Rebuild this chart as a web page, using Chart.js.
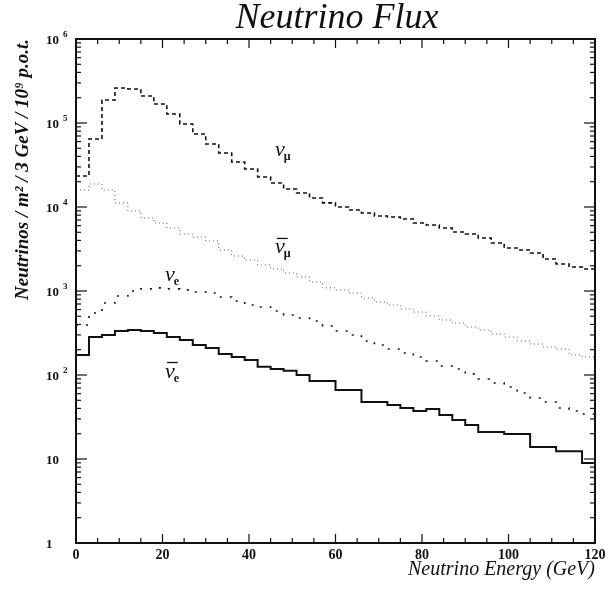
<!DOCTYPE html>
<html>
<head>
<meta charset="utf-8">
<script src="https://cdn.jsdelivr.net/npm/chart.js@4/dist/chart.umd.min.js"></script>
<style>
  html, body { margin: 0; padding: 0; background: #fff; }
  canvas { display: block; }
</style>
</head>
<body>
<canvas id="fluxChart" width="605" height="590"></canvas>
<script>
// bin edges in GeV (3 GeV bins)
const binEdges = [0, 3, 6, 9, 12, 15, 18, 21, 24, 27, 30, 33, 36, 39, 42, 45, 48, 51, 54, 57,
  60, 63, 66, 69, 72, 75, 78, 81, 84, 87, 90, 93, 96, 99, 102, 105, 108, 111, 114, 117, 120];

// neutrinos / m2 / 3 GeV / 1e9 p.o.t., one value per bin
const numu = [23400, 64500, 188000, 261000, 254000, 210000, 168000, 128000, 97300, 74000,
  56200, 43900, 34300, 28300, 22800, 19300, 16400, 14700, 12800, 11200,
  10000, 9200, 8490, 7810, 7600, 7200, 6450, 6100, 5620, 5040,
  4770, 4270, 3730, 3250, 3080, 2830, 2400, 2100, 1930, 1830];
const numubar = [15900, 18800, 15900, 11200, 8960, 7400, 6450, 5620, 4770, 4390,
  3940, 3080, 2610, 2340, 2040, 1830, 1640, 1470, 1280, 1090,
  1030, 946, 826, 740, 681, 611, 562, 504, 452, 416,
  373, 343, 308, 283, 254, 234, 215, 204, 173, 164];
const nue = [394, 547, 720, 871, 1000, 1060, 1090, 1060, 1030, 973,
  946, 849, 760, 681, 645, 578, 518, 477, 440, 383,
  334, 299, 254, 228, 204, 183, 164, 147, 128, 118,
  103, 89.6, 80.3, 72, 61, 53.2, 47.7, 40.5, 37.3, 34.3];
const nuebar = [173, 283, 299, 334, 343, 334, 316, 283, 261, 228,
  210, 178, 164, 151, 125, 118, 112, 100, 84.9, 84.9,
  66.3, 66.3, 47.7, 47.7, 43.9, 40.5, 37.3, 39.4, 33.4, 29.1,
  25.4, 21.0, 21.0, 19.9, 19.9, 13.9, 13.9, 12.4, 12.4, 8.96];

const xTicks = [0, 20, 40, 60, 80, 100, 120];
const yTickValues = [1, 10, 100, 1000, 10000, 100000, 1000000];
const yTickBase = ['1', '10', '10', '10', '10', '10', '10'];
const yTickExp = ['', '', '2', '3', '4', '5', '6'];

// curve labels, placed in data units
const curveLabels = [
  { sub: 'μ', bar: false, x: 46, y: 48000 },
  { sub: 'μ', bar: true, x: 46, y: 3300 },
  { sub: 'e', bar: false, x: 20.6, y: 1550 },
  { sub: 'e', bar: true, x: 20.6, y: 110 }
];

const SERIF = '"Liberation Serif", "DejaVu Serif", serif';
const INK = '#111';

// step histogram: one point per edge, last bin repeated at the right edge
const hist = vals => binEdges.map((x, i) => ({ x, y: vals[Math.max(0, Math.min(i - 1, vals.length - 1))] }));

const frameAndLabels = {
  id: 'frameAndLabels',
  afterDraw(chart) {
    const { ctx, chartArea: a, scales: { x, y } } = chart;
    ctx.save();
    ctx.strokeStyle = INK;
    ctx.fillStyle = INK;

    // frame
    ctx.lineWidth = 2;
    ctx.strokeRect(a.left, a.top, a.right - a.left, a.bottom - a.top);

    // inward ticks on all four sides
    ctx.lineWidth = 1.2;
    const seg = (x1, y1, x2, y2) => {
      ctx.beginPath(); ctx.moveTo(x1, y1); ctx.lineTo(x2, y2); ctx.stroke();
    };
    for (let v = x.min; v <= x.max; v += 5) {
      const px = x.getPixelForValue(v);
      const len = v % 20 === 0 ? 9 : 5;
      seg(px, a.bottom, px, a.bottom - len);
      seg(px, a.top, px, a.top + len);
    }
    for (let d = 1; d < y.max; d *= 10) {
      for (let m = 1; m < 10; m++) {
        const py = y.getPixelForValue(m * d);
        const len = m === 1 ? 11 : 5;
        seg(a.left, py, a.left + len, py);
        seg(a.right, py, a.right - len, py);
      }
    }

    // y tick labels with raised exponent
    ctx.textBaseline = 'middle';
    ctx.textAlign = 'left';
    yTickValues.forEach((v, i) => {
      const py = y.getPixelForValue(v);
      const bx = a.left - 30;
      ctx.font = 'bold 13px ' + SERIF;
      ctx.fillText(yTickBase[i], bx, py + 2);
      if (yTickExp[i]) {
        const w = ctx.measureText(yTickBase[i]).width;
        ctx.font = 'bold 9px ' + SERIF;
        ctx.fillText(yTickExp[i], bx + w + 4, py - 4);
      }
    });

    // curve labels
    curveLabels.forEach(l => {
      const px = x.getPixelForValue(l.x);
      const py = y.getPixelForValue(l.y);
      ctx.font = 'italic 22px ' + SERIF;
      ctx.textBaseline = 'alphabetic';
      ctx.fillText('ν', px, py + 6);
      const w = ctx.measureText('ν').width;
      if (l.bar) {
        ctx.lineWidth = 1.3;
        seg(px + 2, py - 9, px + w + 3, py - 9);
      }
      ctx.font = 'bold 12px ' + SERIF;
      ctx.fillText(l.sub, px + w - 1, py + 10);
    });

    // title
    ctx.font = 'italic 36px ' + SERIF;
    ctx.textAlign = 'center';
    ctx.textBaseline = 'alphabetic';
    ctx.fillText('Neutrino Flux', 337, 28);
    ctx.restore();
  }
};

const ctx = document.getElementById('fluxChart').getContext('2d');
new Chart(ctx, {
  type: 'line',
  data: {
    datasets: [
      { label: 'νμ', data: hist(numu), borderColor: INK, borderWidth: 1.6, borderDash: [4, 3] },
      { label: 'anti-νμ', data: hist(numubar), borderColor: '#555', borderWidth: 1, borderDash: [1, 3] },
      { label: 'νe', data: hist(nue), borderColor: INK, borderWidth: 1.6, borderDash: [2, 8] },
      { label: 'anti-νe', data: hist(nuebar), borderColor: INK, borderWidth: 2 }
    ].map(d => Object.assign(d, { stepped: 'after', pointRadius: 0, fill: false }))
  },
  options: {
    responsive: false,
    animation: false,
    layout: { padding: { top: 39, right: 10, left: 0, bottom: 0 } },
    plugins: { legend: { display: false }, tooltip: { enabled: false } },
    scales: {
      x: {
        type: 'linear',
        min: 0,
        max: 120,
        afterBuildTicks: s => { s.ticks = xTicks.map(v => ({ value: v })); },
        afterFit: s => { s.height = 47; s.paddingRight = 0; s.paddingLeft = 0; },
        grid: { display: false, drawTicks: false },
        border: { display: false },
        ticks: { color: INK, padding: 4, font: { family: SERIF, size: 14, weight: 'bold' } },
        title: {
          display: true,
          text: 'Neutrino Energy (GeV)',
          align: 'end',
          color: INK,
          padding: { top: 0, bottom: 8 },
          font: { family: SERIF, size: 20, style: 'italic' }
        }
      },
      y: {
        type: 'logarithmic',
        min: 1,
        max: 1000000,
        afterFit: s => { s.width = 76; },
        grid: { display: false },
        border: { display: false },
        ticks: { display: false },
        title: {
          display: true,
          text: 'Neutrinos / m² / 3 GeV / 10⁹ p.o.t.',
          align: 'end',
          color: INK,
          padding: { top: 12, bottom: 0 },
          font: { family: SERIF, size: 19, style: 'italic', weight: 'bold' }
        }
      }
    }
  },
  plugins: [frameAndLabels]
});
</script>
</body>
</html>
